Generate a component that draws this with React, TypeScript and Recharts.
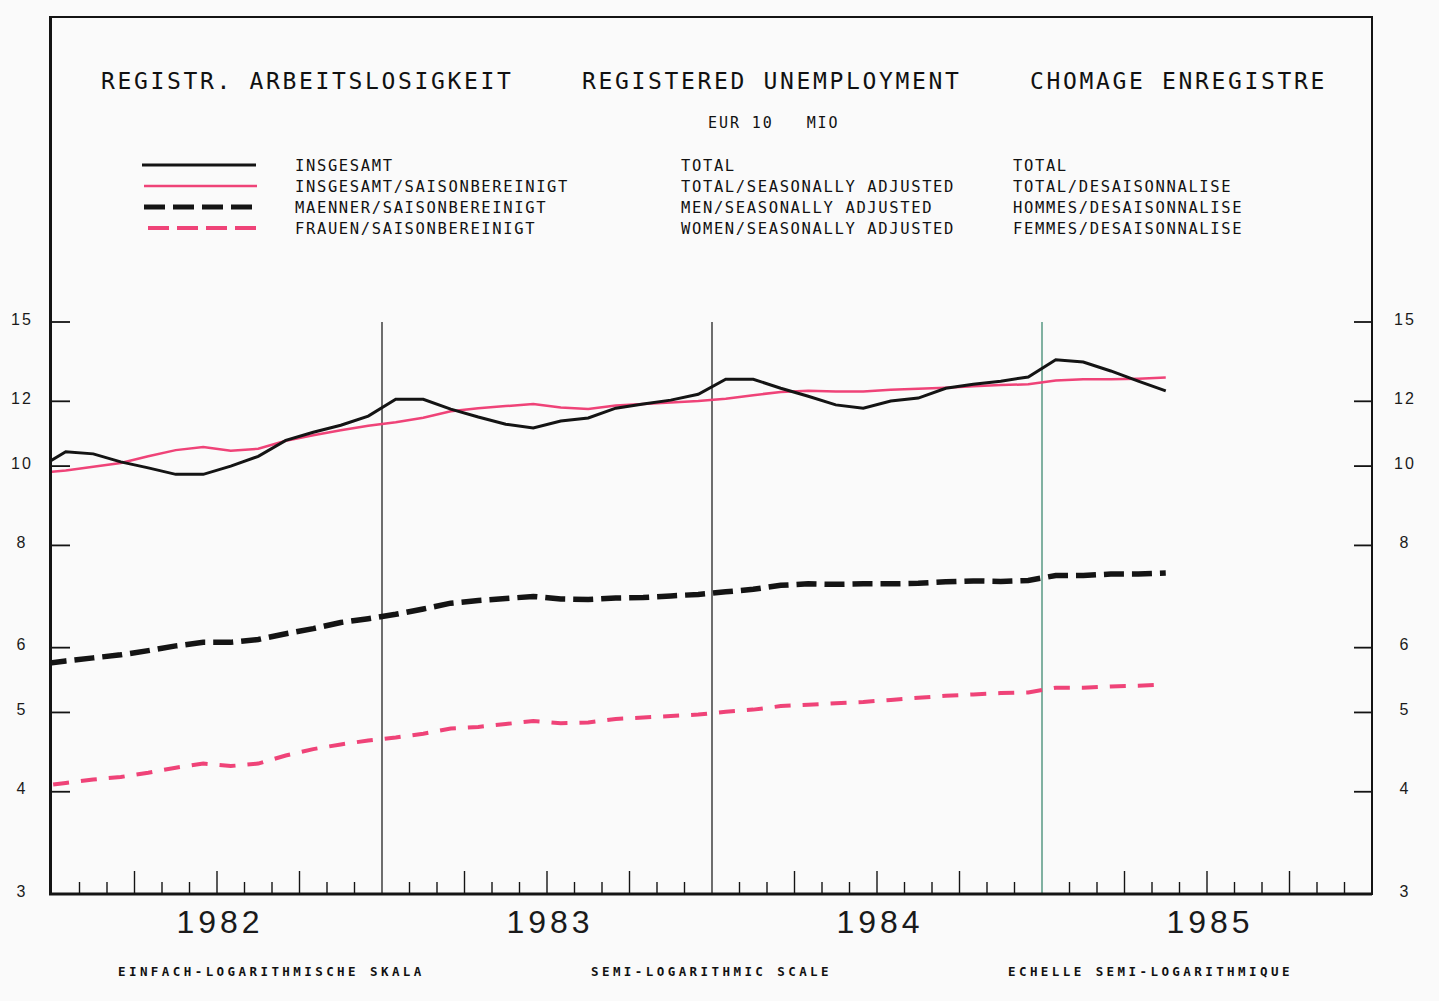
import React from 'react';
import { LineChart, Line, XAxis, YAxis, ReferenceLine } from 'recharts';

// Monthly observations (mid-month), Dec 1981 .. May 1985, millions
const months = [
  '1981-12',
  '1982-01', '1982-02', '1982-03', '1982-04', '1982-05', '1982-06', '1982-07', '1982-08', '1982-09', '1982-10', '1982-11', '1982-12',
  '1983-01', '1983-02', '1983-03', '1983-04', '1983-05', '1983-06', '1983-07', '1983-08', '1983-09', '1983-10', '1983-11', '1983-12',
  '1984-01', '1984-02', '1984-03', '1984-04', '1984-05', '1984-06', '1984-07', '1984-08', '1984-09', '1984-10', '1984-11', '1984-12',
  '1985-01', '1985-02', '1985-03', '1985-04', '1985-05',
];

const total = [
  9.94,
  10.41, 10.35, 10.12, 9.95, 9.77, 9.77, 10.0, 10.28, 10.75, 11.0, 11.22, 11.51,
  12.07, 12.07, 11.74, 11.48, 11.25, 11.13, 11.35, 11.45, 11.77, 11.91, 12.04, 12.24,
  12.77, 12.77, 12.45, 12.17, 11.88, 11.77, 12.01, 12.11, 12.45, 12.59, 12.7, 12.85,
  13.49, 13.4, 13.07, 12.7, 12.36,
];

const totalSA = [
  9.8,
  9.88, 9.98, 10.09, 10.28, 10.46, 10.55, 10.44, 10.5, 10.74, 10.91, 11.06, 11.2,
  11.31, 11.46, 11.67, 11.77, 11.84, 11.91, 11.79, 11.74, 11.86, 11.91, 11.96, 12.01,
  12.09, 12.21, 12.32, 12.36, 12.34, 12.34, 12.4, 12.43, 12.47, 12.52, 12.56, 12.59,
  12.72, 12.77, 12.77, 12.79, 12.83,
];

const men = [
  5.72,
  5.78, 5.83, 5.88, 5.95, 6.03, 6.09, 6.09, 6.14, 6.24, 6.33, 6.44, 6.51,
  6.59, 6.69, 6.8, 6.85, 6.89, 6.93, 6.88, 6.87, 6.9, 6.91, 6.94, 6.97,
  7.02, 7.07, 7.15, 7.18, 7.17, 7.18, 7.18, 7.19, 7.22, 7.24, 7.23, 7.25,
  7.35, 7.35, 7.38, 7.38, 7.4,
];

const women = [
  4.06,
  4.1, 4.14, 4.17, 4.22, 4.28, 4.33, 4.3, 4.33, 4.43, 4.51, 4.57, 4.62,
  4.66, 4.71, 4.78, 4.8, 4.84, 4.88, 4.85, 4.86, 4.91, 4.93, 4.95, 4.97,
  5.01, 5.04, 5.09, 5.11, 5.13, 5.15, 5.18, 5.21, 5.24, 5.26, 5.28, 5.29,
  5.36, 5.36, 5.38, 5.39, 5.41,
];

const yTicks = [3, 4, 5, 6, 8, 10, 12, 15];
const monthTicks = [
  1, 2, 3, 4, 5, 6, 7, 8, 9, 10, 11, 12,
  13, 14, 15, 16, 17, 18, 19, 20, 21, 22, 23, 24,
  25, 26, 27, 28, 29, 30, 31, 32, 33, 34, 35, 36,
  37, 38, 39, 40, 41, 42, 43, 44, 45, 46, 47,
];
const yearLabels = ['1982', '1983', '1984', '1985'];
const yearBoundaries = [12, 24, 36];

const titles = [
  { text: 'REGISTR. ARBEITSLOSIGKEIT', x: 101 },
  { text: 'REGISTERED UNEMPLOYMENT', x: 582 },
  { text: 'CHOMAGE ENREGISTRE', x: 1030 },
];
const legendDe = ['INSGESAMT', 'INSGESAMT/SAISONBEREINIGT', 'MAENNER/SAISONBEREINIGT', 'FRAUEN/SAISONBEREINIGT'];
const legendEn = ['TOTAL', 'TOTAL/SEASONALLY ADJUSTED', 'MEN/SEASONALLY ADJUSTED', 'WOMEN/SEASONALLY ADJUSTED'];
const legendFr = ['TOTAL', 'TOTAL/DESAISONNALISE', 'HOMMES/DESAISONNALISE', 'FEMMES/DESAISONNALISE'];
const captions = [
  { text: 'EINFACH-LOGARITHMISCHE SKALA', x: 118 },
  { text: 'SEMI-LOGARITHMIC SCALE', x: 591 },
  { text: 'ECHELLE SEMI-LOGARITHMIQUE', x: 1008 },
];

const data = months.map((m, i) => ({
  month: m,
  t: i - 0.5,
  total: total[i],
  totalSA: totalSA[i],
  men: men[i],
  women: women[i],
}));

const INK = '#141414';
const PINK = '#ef4378';
const MONO = "'DejaVu Sans Mono', 'Liberation Mono', monospace";
const SANS = "'Liberation Sans', Arial, sans-serif";

function LeftTick(props: any) {
  const { x, y, payload } = props;
  const v = payload.value;
  return (
    <g>
      {v !== 3 && <line x1={x} x2={x + 18} y1={y} y2={y} stroke={INK} strokeWidth={1.8} />}
      <text x={x - 30} y={y - 3} textAnchor="middle" dominantBaseline="central" fontFamily={SANS} fontSize={16} letterSpacing={2} fill="#1a1a1a">
        {v}
      </text>
    </g>
  );
}

function RightTick(props: any) {
  const { x, y, payload } = props;
  const v = payload.value;
  return (
    <g>
      {v !== 3 && <line x1={x - 18} x2={x} y1={y} y2={y} stroke={INK} strokeWidth={1.8} />}
      <text x={x + 33} y={y - 3} textAnchor="middle" dominantBaseline="central" fontFamily={SANS} fontSize={16} letterSpacing={2} fill="#1a1a1a">
        {v}
      </text>
    </g>
  );
}

function MonthTick(props: any) {
  const { x, y, payload } = props;
  const v = payload.value;
  const h = v % 3 === 0 ? 23 : 12;
  return (
    <g>
      {v % 12 !== 0 && <line x1={x} x2={x} y1={y} y2={y - h} stroke={INK} strokeWidth={1.4} />}
      {v % 12 === 6 && (
        <text x={x + 3} y={y + 39} textAnchor="middle" fontFamily={SANS} fontSize={32} letterSpacing={4} fill="#1a1a1a">
          {yearLabels[(v - 6) / 12]}
        </text>
      )}
    </g>
  );
}

const legendRows = [165, 186, 207, 228];

export default function App() {
  return (
    <div style={{ position: 'absolute', left: 0, top: 0, width: 1439, height: 1001, background: '#fafafa', overflow: 'hidden' }}>
      <LineChart width={1439} height={1001} data={data} margin={{ top: 322, right: 0, bottom: 47, left: 0 }}>
        <XAxis
          dataKey="t"
          type="number"
          domain={[0, 48]}
          allowDataOverflow
          ticks={monthTicks}
          interval={0}
          tickSize={0}
          tickMargin={0}
          height={60}
          axisLine={{ stroke: INK, strokeWidth: 3 }}
          tickLine={false}
          tick={<MonthTick />}
        />
        <YAxis
          yAxisId="left"
          orientation="left"
          scale="log"
          domain={[3, 15]}
          allowDataOverflow
          ticks={yTicks}
          interval={0}
          width={52}
          tickSize={0}
          tickMargin={0}
          axisLine={false}
          tickLine={false}
          tick={<LeftTick />}
        />
        <YAxis
          yAxisId="right"
          orientation="right"
          scale="log"
          domain={[3, 15]}
          allowDataOverflow
          ticks={yTicks}
          interval={0}
          width={67}
          tickSize={0}
          tickMargin={0}
          axisLine={false}
          tickLine={false}
          tick={<RightTick />}
        />
        {yearBoundaries.map((b, i) => (
          <ReferenceLine key={b} yAxisId="left" x={b} stroke={i === 2 ? '#3f8a72' : '#222'} strokeWidth={1.3} />
        ))}
        <Line yAxisId="left" dataKey="women" type="linear" stroke={PINK} strokeWidth={4} strokeDasharray="16 12" strokeDashoffset={13} dot={false} isAnimationActive={false} />
        <Line yAxisId="left" dataKey="men" type="linear" stroke={INK} strokeWidth={5.5} strokeDasharray="20 8" strokeDashoffset={19.5} dot={false} isAnimationActive={false} />
        <Line yAxisId="left" dataKey="totalSA" type="linear" stroke={PINK} strokeWidth={2.5} dot={false} isAnimationActive={false} />
        <Line yAxisId="left" dataKey="total" type="linear" stroke={INK} strokeWidth={3} dot={false} isAnimationActive={false} />
      </LineChart>
      <svg width={1439} height={1001} style={{ position: 'absolute', left: 0, top: 0, pointerEvents: 'none' }}>
        {/* frame */}
        <line x1={49} x2={1373} y1={17} y2={17} stroke={INK} strokeWidth={2} />
        <line x1={50.5} x2={50.5} y1={16} y2={895.5} stroke={INK} strokeWidth={3} />
        <line x1={1372} x2={1372} y1={16} y2={895} stroke={INK} strokeWidth={2} />
        {/* titles */}
        {titles.map((t) => (
          <text key={t.text} x={t.x} y={88.5} fontFamily={MONO} fontSize={23} letterSpacing={2.65} fill="#111">
            {t.text}
          </text>
        ))}
        <text x={708} y={128} fontFamily={MONO} fontSize={15} letterSpacing={1.93} fill="#111" xmlSpace="preserve" style={{ whiteSpace: 'pre' }}>
          {'EUR 10   MIO'}
        </text>
        {/* legend samples */}
        <line x1={142} x2={256} y1={legendRows[0]} y2={legendRows[0]} stroke={INK} strokeWidth={3} />
        <line x1={144} x2={257} y1={legendRows[1]} y2={legendRows[1]} stroke={PINK} strokeWidth={2.5} />
        <line x1={144} x2={254} y1={legendRows[2]} y2={legendRows[2]} stroke={INK} strokeWidth={5} strokeDasharray="21 8" />
        <line x1={148} x2={256} y1={legendRows[3]} y2={legendRows[3]} stroke={PINK} strokeWidth={4} strokeDasharray="21 8" />
        {legendRows.map((ry, i) => (
          <g key={ry}>
            <text x={295} y={ry + 5.5} fontFamily={MONO} fontSize={15.5} letterSpacing={1.63} fill="#111">{legendDe[i]}</text>
            <text x={681} y={ry + 5.5} fontFamily={MONO} fontSize={15.5} letterSpacing={1.63} fill="#111">{legendEn[i]}</text>
            <text x={1013} y={ry + 5.5} fontFamily={MONO} fontSize={15.5} letterSpacing={1.63} fill="#111">{legendFr[i]}</text>
          </g>
        ))}
        {captions.map((c) => (
          <text key={c.text} x={c.x} y={975.5} fontFamily={MONO} fontSize={12.5} fontWeight="bold" letterSpacing={3.43} fill="#111">
            {c.text}
          </text>
        ))}
      </svg>
    </div>
  );
}
